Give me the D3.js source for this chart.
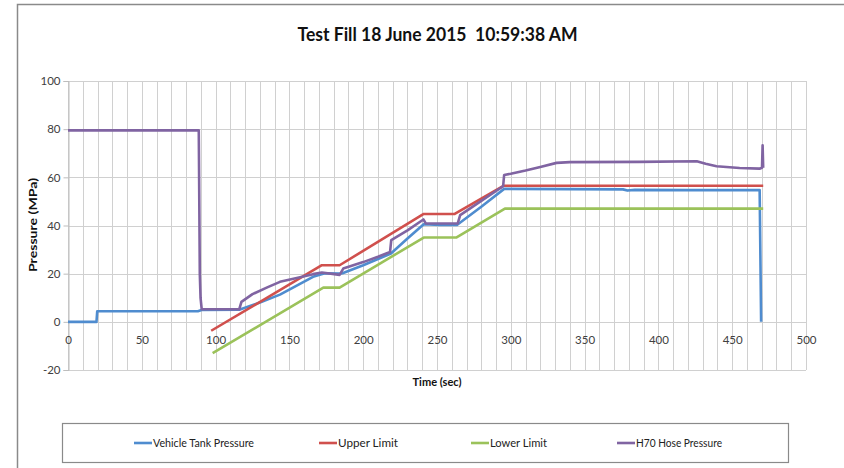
<!DOCTYPE html>
<html>
<head>
<meta charset="utf-8">
<script src="https://cdn.jsdelivr.net/npm/d3@7"></script>
<style>
  html, body { margin: 0; padding: 0; background: #fff; }
  svg { display: block; font-family: Lato, "Open Sans", sans-serif; }
</style>
</head>
<body>
<svg id="chart" width="844" height="468"></svg>
<script>
// ---- Data ----
const chartTitle = "Test Fill 18 June 2015  10:59:38 AM";
const xAxisTitle = "Time (sec)";
const yAxisTitle = "Pressure (MPa)";
const xTickLabels = [0, 50, 100, 150, 200, 250, 300, 350, 400, 450, 500];
const yTickLabels = [-20, 0, 20, 40, 60, 80, 100];

const seriesNames = ["Vehicle Tank Pressure", "Upper Limit", "Lower Limit", "H70 Hose Pressure"];
const seriesColors = ["#4f8ccf", "#d0504d", "#9bc25a", "#8064a2"];

const vehicleTime   = [0, 19.3, 19.8, 88, 90.5, 116, 130, 143.6, 166, 174, 184, 186, 200, 218.8, 230, 241, 252, 263.5, 280, 295.5, 340, 376, 379, 384, 420, 468.6, 469.6];
const vehicleValues = [0, 0, 4.4, 4.4, 4.9, 5, 8, 11.3, 18.7, 20.2, 20, 20.2, 23.5, 28.4, 34.6, 40.5, 40.2, 40.2, 47.8, 55.2, 55.1, 55, 54.5, 54.8, 54.7, 54.7, 0];

const upperTime   = [97, 172, 184, 241, 262, 295, 471];
const upperValues = [-3.7, 23.5, 23.5, 44.8, 44.8, 56.5, 56.5];

const lowerTime   = [98, 173, 184, 241, 263, 296, 471];
const lowerValues = [-13, 14.2, 14.2, 35, 35, 47, 47];

const hoseTime   = [0, 88.6, 89.3, 89.8, 90.6, 116, 117.5, 125, 134.6, 143.6, 155, 166, 172, 184, 186.5, 200, 210, 218.2, 219, 230, 240.8, 242.5, 264, 265.7, 280, 294.8, 295.5, 300, 310, 320, 331, 340, 387, 426, 432, 439.4, 455, 468.5, 470.2, 470.6, 471];
const hoseValues = [79.5, 79.5, 20, 10, 5.2, 5.2, 8.3, 11.5, 14.2, 16.6, 18.2, 19.8, 20.5, 19.5, 22.1, 24.8, 27, 29, 33.9, 38, 42.5, 40.8, 40.8, 44.3, 50.2, 56.3, 61, 61.5, 62.8, 64.3, 66, 66.3, 66.4, 66.7, 65.6, 64.6, 63.9, 63.6, 64, 73.3, 64];

const seriesTimes  = [vehicleTime, upperTime, lowerTime, hoseTime];
const seriesValues = [vehicleValues, upperValues, lowerValues, hoseValues];

// ---- Drawing ----
const svg = d3.select("#chart");
const W = 844, H = 468;
const x = d3.scaleLinear().domain([0, 500]).range([68, 806]);
const y = d3.scaleLinear().domain([-20, 100]).range([370, 81]);

// outer chart border (cut by window)
svg.append("path")
  .attr("d", `M17.5,${H} V4.5 H${W}`)
  .attr("fill", "none").attr("stroke", "#8a8a8a").attr("stroke-width", 1.5);

// vertical gridlines every 10 s
const grid = svg.append("g").attr("stroke", "#d0d0d0").attr("stroke-width", 1);
grid.selectAll("line.v").data(d3.range(0, 501, 10)).join("line")
  .attr("x1", d => Math.round(x(d)) + 0.5).attr("x2", d => Math.round(x(d)) + 0.5)
  .attr("y1", y(100)).attr("y2", y(-20));
// horizontal gridlines every 20
grid.selectAll("line.h").data(yTickLabels).join("line")
  .attr("x1", x(0)).attr("x2", x(500))
  .attr("y1", d => Math.round(y(d)) + 0.5).attr("y2", d => Math.round(y(d)) + 0.5);

// y axis
const yAxis = svg.append("g").attr("transform", `translate(${Math.round(x(0)) + 0.5},0)`)
  .call(d3.axisLeft(y).tickValues(yTickLabels).tickSize(5).tickPadding(3).tickFormat(d => String(d)));
yAxis.select(".domain").attr("stroke", "#bdbdbd");
yAxis.selectAll(".tick line").attr("stroke", "#bdbdbd");
yAxis.selectAll(".tick text").attr("fill", "#404040").style("font-size", "11.5px")
  .style("font-family", "Lato, sans-serif");

// x axis labels placed just below the zero line
const xAxis = svg.append("g").attr("transform", `translate(0,${y(0)})`)
  .call(d3.axisBottom(x).tickValues(xTickLabels).tickSize(0).tickPadding(14).tickFormat(d => String(d)));
xAxis.select(".domain").remove();
xAxis.selectAll(".tick text").attr("fill", "#404040").style("font-size", "11.5px")
  .style("font-family", "Lato, sans-serif");

// series lines
const line = d3.line().x(d => x(d[0])).y(d => y(d[1]));
const linesG = svg.append("g");
seriesNames.forEach((name, i) => {
  const pts = seriesTimes[i].map((t, j) => [t, seriesValues[i][j]]);
  linesG.append("path").datum(pts)
    .attr("d", line)
    .attr("fill", "none")
    .attr("stroke", seriesColors[i])
    .attr("stroke-width", 2.6)
    .attr("stroke-linejoin", "round")
    .attr("stroke-linecap", "butt");
});

// title
svg.append("text")
  .attr("x", 437.5).attr("y", 41)
  .attr("text-anchor", "middle")
  .attr("textLength", 280).attr("lengthAdjust", "spacingAndGlyphs")
  .style("white-space", "pre")
  .style("font-size", "19.5px").style("font-weight", "bold").attr("fill", "#111")
  .text(chartTitle);

// axis titles
svg.append("text")
  .attr("x", 437).attr("y", 386)
  .attr("text-anchor", "middle")
  .attr("textLength", 49).attr("lengthAdjust", "spacingAndGlyphs")
  .style("font-size", "12px").style("font-weight", "bold").attr("fill", "#111")
  .text(xAxisTitle);
svg.append("text")
  .attr("transform", "translate(37,225) rotate(-90)")
  .attr("text-anchor", "middle")
  .attr("textLength", 94).attr("lengthAdjust", "spacingAndGlyphs")
  .style("font-size", "11.5px").style("font-weight", "bold").attr("fill", "#111")
  .text(yAxisTitle);

// legend
svg.append("rect")
  .attr("x", 62.5).attr("y", 423.5).attr("width", 726).attr("height", 39)
  .attr("fill", "#fff").attr("stroke", "#8a8a8a").attr("stroke-width", 1.2);
const legendLineX = [134, 319, 471, 617];
const legendTextLen = [101, 60, 57, 86];
const lg = svg.append("g");
seriesNames.forEach((name, i) => {
  lg.append("line")
    .attr("x1", legendLineX[i]).attr("x2", legendLineX[i] + 18)
    .attr("y1", 443).attr("y2", 443)
    .attr("stroke", seriesColors[i]).attr("stroke-width", 2.6);
  lg.append("text")
    .attr("x", legendLineX[i] + 19).attr("y", 447)
    .attr("textLength", legendTextLen[i]).attr("lengthAdjust", "spacingAndGlyphs")
    .style("font-size", "11.5px").attr("fill", "#222")
    .text(name);
});
</script>
</body>
</html>
